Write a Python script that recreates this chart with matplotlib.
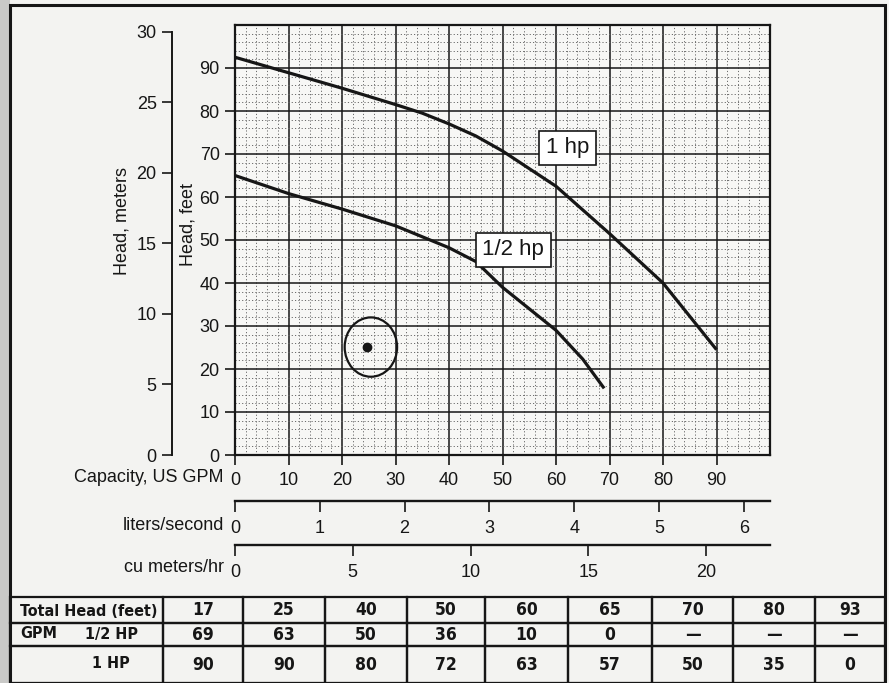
import matplotlib.pyplot as plt
from matplotlib.patches import Ellipse, Rectangle
import numpy as np

# Pump curves (capacity in US GPM, head in feet)
gpm_half = [0, 10, 20, 30, 40, 45, 50, 55, 60, 65, 69]
head_half = [65, 60.8, 57.2, 53.3, 48.2, 45, 39, 34, 29, 22.3, 15.5]
gpm_one = [0, 10, 20, 30, 35, 40, 45, 50, 60, 70, 80, 90]
head_one = [92.5, 88.9, 85.3, 81.5, 79.5, 77, 74.2, 70.7, 62.5, 51.5, 40, 24.5]

# Hand-marked operating point
op_gpm = 24.6
op_head = 25.2

# Table under the chart
head_ft = [17, 25, 40, 50, 60, 65, 70, 80, 93]
gpm_half_hp = ['69', '63', '50', '36', '10', '0', '—', '—', '—']
gpm_1hp = ['90', '90', '80', '72', '63', '57', '50', '35', '0']

# Unit conversions for the extra scales
GPM_PER_LPS = 15.850
GPM_PER_M3H = 4.4029
FT_PER_M = 3.28084

W, H = 889, 683
def fx(x):
    return x / W
def fy(y):
    return 1 - y / H

ink = '#161616'
plt.rcParams['font.family'] = ['Liberation Sans', 'DejaVu Sans']
fig = plt.figure(figsize=(W / 100, H / 100), dpi=100, facecolor='#f3f3f1')

# Frame and darker strip at the left edge of the scan
fig.add_artist(Rectangle((0, 0), fx(10), 1, transform=fig.transFigure,
                         facecolor='#c9c9c7', edgecolor='none', zorder=0))
fig.add_artist(Rectangle((fx(10), 0), fx(885) - fx(10), fy(5), transform=fig.transFigure,
                         fill=False, edgecolor=ink, linewidth=2.2, zorder=5))

# Main grid (feet)
ax = fig.add_axes([fx(235), fy(455), fx(770) - fx(235), fy(25) - fy(455)])
ax.set_facecolor('#f7f7f5')
ax.set_xlim(0, 100)
ax.set_ylim(0, 100)
ax.set_xticks(range(0, 100, 10))
ax.set_yticks(range(0, 100, 10))
ax.set_xticks(np.arange(0, 100, 2), minor=True)
ax.set_yticks(np.arange(0, 100, 2), minor=True)
ax.grid(which='major', color=ink, linewidth=1.1)
ax.grid(which='minor', color='#6a6a6a', linewidth=0.7, linestyle=(0, (1.2, 2.2)))
ax.set_axisbelow(True)
ax.tick_params(which='minor', length=0)
ax.tick_params(which='major', direction='out', length=7, width=1.2, color=ink,
               labelsize=13, labelcolor=ink)
ax.tick_params(axis='x', pad=5)
ax.tick_params(axis='y', pad=4)
for s in ax.spines.values():
    s.set_color(ink)
    s.set_linewidth(1.6)

ax.plot(gpm_one, head_one, color=ink, linewidth=2.3, solid_capstyle='butt', zorder=3)
ax.plot(gpm_half, head_half, color=ink, linewidth=2.3, solid_capstyle='butt', zorder=3)

box = dict(boxstyle='square,pad=0.3', facecolor='white', edgecolor=ink, linewidth=1.2)
ax.text(62.1, 71.4, '1 hp', fontsize=16, ha='center', va='center', color=ink, bbox=box, zorder=4)
ax.text(52.0, 47.7, '1/2 hp', fontsize=16, ha='center', va='center', color=ink, bbox=box, zorder=4)

ax.add_patch(Ellipse((25.4, 25.1), 9.8, 13.8, fill=False, edgecolor=ink, linewidth=1.6, zorder=4))
ax.plot(op_gpm, op_head, 'o', color=ink, markersize=6, zorder=4)

# Head in meters, on its own spine
mx = fig.add_axes([fx(172), fy(455), 0.001, fy(25) - fy(455)])
mx.patch.set_visible(False)
mx.set_ylim(0, 100 / FT_PER_M)
mx.set_yticks(range(0, 31, 5))
mx.set_xticks([])
for side in ['top', 'right', 'bottom']:
    mx.spines[side].set_visible(False)
mx.spines['left'].set_bounds(0, 30)
mx.spines['left'].set_linewidth(1.4)
mx.spines['left'].set_color(ink)
mx.tick_params(direction='out', length=7, width=1.2, color=ink, labelsize=13,
               labelcolor=ink, pad=4)

fig.text(fx(122), fy(221), 'Head, meters', rotation=90, ha='center', va='center',
         fontsize=13, color=ink)
fig.text(fx(188), fy(225), 'Head, feet', rotation=90, ha='center', va='center',
         fontsize=13, color=ink)

# Extra capacity scales
def scale_axis(ypix, factor, ticks, label, label_y):
    sx = fig.add_axes([fx(235), fy(ypix), fx(770) - fx(235), 0.0001])
    sx.patch.set_visible(False)
    sx.set_xlim(0, 100 / factor)
    sx.set_xticks(ticks)
    sx.set_yticks([])
    for side in ['top', 'left', 'right']:
        sx.spines[side].set_visible(False)
    sx.spines['bottom'].set_linewidth(1.7)
    sx.spines['bottom'].set_color(ink)
    sx.tick_params(direction='out', length=8, width=1.2, color=ink, labelsize=13,
                   labelcolor=ink, pad=6)
    fig.text(fx(224), fy(label_y), label, ha='right', va='center', fontsize=13, color=ink)

fig.text(fx(224), fy(478), 'Capacity, US GPM', ha='right', va='center', fontsize=13, color=ink)
scale_axis(501, GPM_PER_LPS, range(0, 7), 'liters/second', 526)
scale_axis(545, GPM_PER_M3H, range(0, 21, 5), 'cu meters/hr', 568)

# Table
tfont = dict(family=['DejaVu Sans'], fontstretch='condensed', fontweight='bold',
             fontsize=12.5, color=ink)
lfont = dict(tfont, fontsize=11.5)
tax = fig.add_axes([fx(10), 0, fx(885) - fx(10), fy(597)])
tax.axis('off')
col_w = [153, 80, 82, 82, 78, 83, 84, 81, 82, 70]
row_h = [26, 23, 37]
cells = [[''] + [str(v) for v in head_ft], [''] + gpm_half_hp, [''] + gpm_1hp]
tbl = tax.table(cellText=cells, colWidths=[w / sum(col_w) for w in col_w],
                bbox=[0, 0, 1, 1], cellLoc='center')
tbl.auto_set_font_size(False)
for (r, c), cell in tbl.get_celld().items():
    cell.set_height(row_h[r] / sum(row_h))
    cell.set_linewidth(1.6)
    cell.set_edgecolor(ink)
    cell.set_facecolor('none')
    cell.get_text().update(tfont)

fig.text(fx(20), fy(611), 'Total Head (feet)', ha='left', va='center', **lfont)
fig.text(fx(20), fy(634), 'GPM', ha='left', va='center', **lfont)
fig.text(fx(85), fy(634), '1/2 HP', ha='left', va='center', **lfont)
fig.text(fx(92), fy(664), '1 HP', ha='left', va='center', **lfont)

fig.savefig('out.png', dpi=100, facecolor=fig.get_facecolor())
